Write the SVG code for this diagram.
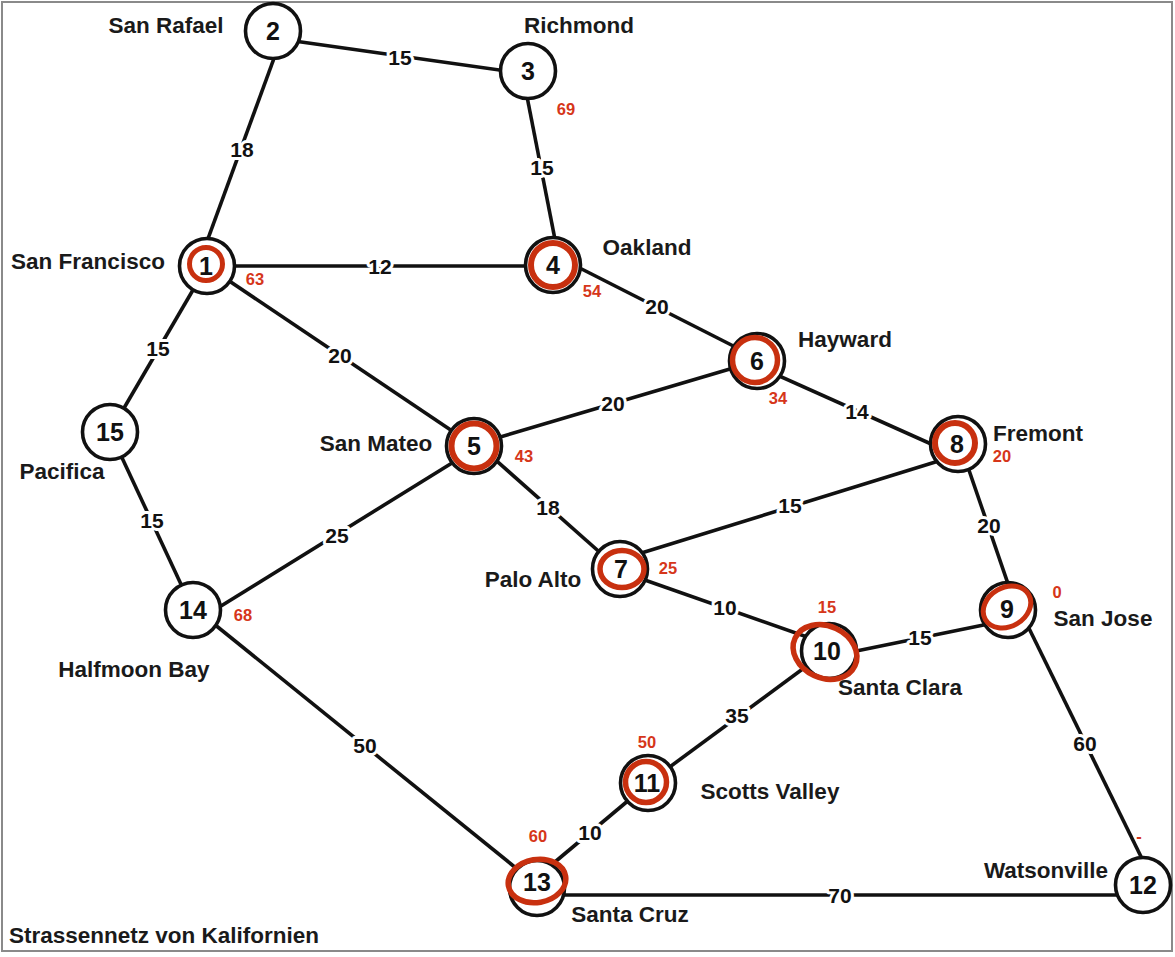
<svg xmlns="http://www.w3.org/2000/svg" width="1175" height="957" viewBox="0 0 1175 957">
<style>
.frame{fill:#fff;stroke:#8a8a8a;stroke-width:2}
.edge{stroke:#111;stroke-width:3.6;fill:none}
.node{fill:#fff;stroke:#111;stroke-width:3.6}
.ring{fill:none;stroke:#c8300f;stroke-width:5.5}
.num{font-family:"Liberation Sans",Arial,sans-serif;font-weight:bold;font-size:25px;fill:#111;text-anchor:middle}
.name{font-family:"Liberation Sans",Arial,sans-serif;font-weight:bold;font-size:22.5px;fill:#1a1a1a;text-anchor:middle}
.w{font-family:"Liberation Sans",Arial,sans-serif;font-weight:bold;font-size:21px;fill:#111;text-anchor:middle;stroke:#fff;stroke-width:6;paint-order:stroke;stroke-linejoin:round}
.red{font-family:"Liberation Sans",Arial,sans-serif;font-weight:bold;font-size:16.5px;fill:#d6361a;text-anchor:middle}
</style>
<rect class="frame" x="2" y="2" width="1170" height="949"/>
<g id="connectors">
<line class="edge" x1="273" y1="38" x2="528" y2="74"/>
<line class="edge" x1="284" y1="31" x2="198" y2="266"/>
<line class="edge" x1="522" y1="71" x2="560" y2="265"/>
<line class="edge" x1="207" y1="266" x2="553" y2="266"/>
<line class="edge" x1="560" y1="258" x2="757" y2="358"/>
<line class="edge" x1="207" y1="266" x2="473" y2="445"/>
<line class="edge" x1="207" y1="266" x2="110" y2="432"/>
<line class="edge" x1="473" y1="445" x2="757" y2="361"/>
<line class="edge" x1="757" y1="366" x2="958" y2="456"/>
<line class="edge" x1="473" y1="440" x2="622" y2="572"/>
<line class="edge" x1="622" y1="559" x2="958" y2="455"/>
<line class="edge" x1="960" y1="444" x2="1017" y2="610"/>
<line class="edge" x1="827" y1="657" x2="1008" y2="620"/>
<line class="edge" x1="622" y1="572" x2="827" y2="644"/>
<line class="edge" x1="110" y1="432" x2="193" y2="610"/>
<line class="edge" x1="200" y1="619" x2="473" y2="450"/>
<line class="edge" x1="193" y1="607" x2="537" y2="885"/>
<line class="edge" x1="648" y1="783" x2="827" y2="651"/>
<line class="edge" x1="537" y1="877" x2="648" y2="784"/>
<line class="edge" x1="537" y1="895" x2="1143" y2="895"/>
<line class="edge" x1="1020" y1="610" x2="1150" y2="875"/>
<text class="w" x="400" y="64.5">15</text>
<text class="w" x="242" y="156.5">18</text>
<text class="w" x="542" y="174.5">15</text>
<text class="w" x="380" y="273.5">12</text>
<text class="w" x="657" y="313.5">20</text>
<text class="w" x="340" y="362.5">20</text>
<text class="w" x="158" y="355.5">15</text>
<text class="w" x="613" y="410.5">20</text>
<text class="w" x="857" y="418.5">14</text>
<text class="w" x="548" y="514.5">18</text>
<text class="w" x="790" y="512.5">15</text>
<text class="w" x="989" y="532.5">20</text>
<text class="w" x="920" y="644.5">15</text>
<text class="w" x="725" y="614.5">10</text>
<text class="w" x="152" y="527.5">15</text>
<text class="w" x="337" y="542.5">25</text>
<text class="w" x="365" y="752.5">50</text>
<text class="w" x="737" y="722.5">35</text>
<text class="w" x="590" y="839.5">10</text>
<text class="w" x="840" y="902.5">70</text>
<text class="w" x="1085" y="750.5">60</text>
</g>
<g id="n1"><circle class="node" cx="207" cy="266" r="27.5"/><circle class="ring" cx="206" cy="264" r="16.5" style="stroke-width:5"/><text class="num" x="206" y="275">1</text><text class="name" x="88" y="269">San Francisco</text><text class="red" x="255" y="285">63</text></g>
<g id="n2"><circle class="node" cx="273" cy="31" r="27.5"/><text class="num" x="273" y="40">2</text><text class="name" x="166" y="33">San Rafael</text></g>
<g id="n3"><circle class="node" cx="528" cy="71" r="27.5"/><text class="num" x="528" y="80">3</text><text class="name" x="579" y="33">Richmond</text><text class="red" x="566" y="115">69</text></g>
<g id="n4"><circle class="node" cx="553" cy="265" r="27.5"/><circle class="ring" cx="553" cy="265" r="22" style="stroke-width:6"/><text class="num" x="553" y="274">4</text><text class="name" x="647" y="255">Oakland</text><text class="red" x="592" y="297">54</text></g>
<g id="n5"><circle class="node" cx="474" cy="446" r="27.5"/><circle class="ring" cx="474" cy="446" r="22.5" style="stroke-width:6"/><text class="num" x="474" y="455">5</text><text class="name" x="376" y="451">San Mateo</text><text class="red" x="524" y="462">43</text></g>
<g id="n6"><circle class="node" cx="757" cy="361" r="27.5"/><circle class="ring" cx="755" cy="360" r="22.5" style="stroke-width:5.5"/><text class="num" x="757" y="370">6</text><text class="name" x="845" y="347">Hayward</text><text class="red" x="778" y="404">34</text></g>
<g id="n7"><circle class="node" cx="620" cy="569" r="27.5"/><ellipse class="ring" cx="622" cy="569" rx="22" ry="18.5"/><text class="num" x="621" y="578">7</text><text class="name" x="533" y="587">Palo Alto</text><text class="red" x="668" y="574">25</text></g>
<g id="n8"><circle class="node" cx="958" cy="444" r="27.5"/><circle class="ring" cx="955" cy="443" r="20" style="stroke-width:6"/><text class="num" x="957" y="453">8</text><text class="name" x="1038" y="441">Fremont</text><text class="red" x="1002" y="462">20</text></g>
<g id="n9"><circle class="node" cx="1008" cy="610" r="27.5"/><ellipse class="ring" cx="1007" cy="607" rx="25" ry="19.5" transform="rotate(-30 1007 607)" style="stroke-width:5"/><text class="num" x="1007" y="618">9</text><text class="name" x="1103" y="626">San Jose</text><text class="red" x="1057" y="598">0</text></g>
<g id="n10"><circle class="node" cx="829" cy="651" r="27.5"/><ellipse class="ring" cx="825" cy="652" rx="33" ry="26" transform="rotate(25 825 652)" style="stroke-width:5.5"/><text class="num" x="827" y="660">10</text><text class="name" x="900" y="695">Santa Clara</text><text class="red" x="827" y="613">15</text></g>
<g id="n11"><circle class="node" cx="648" cy="783" r="27.5"/><circle class="ring" cx="646" cy="782" r="20.5" style="stroke-width:5.5"/><text class="num" x="647" y="792">11</text><text class="name" x="770" y="799">Scotts Valley</text><text class="red" x="647" y="748">50</text></g>
<g id="n12"><circle class="node" cx="1143" cy="885" r="27.5"/><text class="num" x="1143" y="894">12</text><text class="name" x="1046" y="878">Watsonville</text><text class="red" x="1139" y="842">-</text></g>
<g id="n13"><circle class="node" cx="537" cy="888" r="27.5"/><ellipse class="ring" cx="537" cy="881" rx="29" ry="21.5" transform="rotate(-10 537 881)" style="stroke-width:5.5"/><text class="num" x="537" y="891">13</text><text class="name" x="630" y="922">Santa Cruz</text><text class="red" x="538" y="842">60</text></g>
<g id="n14"><circle class="node" cx="193" cy="610" r="27.5"/><text class="num" x="193" y="619">14</text><text class="name" x="134" y="677">Halfmoon Bay</text><text class="red" x="243" y="621">68</text></g>
<g id="n15"><circle class="node" cx="110" cy="432" r="27.5"/><text class="num" x="110" y="441">15</text><text class="name" x="62" y="479">Pacifica</text></g>
<text class="name" x="164" y="943">Strassennetz von Kalifornien</text>
</svg>
